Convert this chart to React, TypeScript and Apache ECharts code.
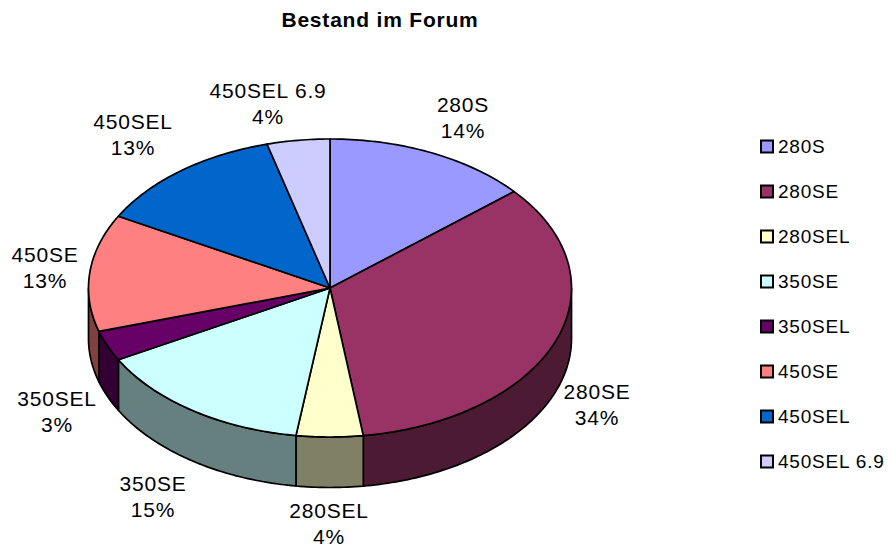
import React, { useEffect, useRef } from "react";
import * as echarts from "echarts";

const categories = ["280S", "280SE", "280SEL", "350SE", "350SEL", "450SE", "450SEL", "450SEL 6.9"];
const shares = [13.8, 34.0, 4.45, 14.75, 3.3, 12.7, 12.8, 4.2];
const topColors = ["#9999FF", "#993366", "#FFFFCC", "#CCFFFF", "#660066", "#FF8080", "#0066CC", "#CCCCFF"];
const sideColors = ["#4D4D80", "#4D1A33", "#808066", "#668080", "#330033", "#804040", "#003366", "#666680"];
const labelX = [463, 597, 329, 153, 57, 45, 133, 268];
const labelY = [117, 404, 523, 496, 411, 267, 134, 103];

const CX = 330;
const CY = 288;
const RX = 241.5;
const RY = 149;
const DEPTH = 50.5;
const LINE = 1.7;
const FONT = "Liberation Sans";

const total = shares.reduce((a, b) => a + b, 0);
const startOf = (i: number) => (shares.slice(0, i).reduce((a, b) => a + b, 0) / total) * Math.PI * 2;
const pt = (t: number, dy = 0): number[] => [CX + RX * Math.sin(t), CY - RY * Math.cos(t) + dy];
const arc = (a: number, b: number, dy = 0): number[][] => {
  const n = Math.max(2, Math.ceil(((b - a) / (Math.PI * 2)) * 360));
  const out: number[][] = [];
  for (let k = 0; k <= n; k++) out.push(pt(a + ((b - a) * k) / n, dy));
  return out;
};

function sliceRenderer(i: number) {
  return () => {
    const a = startOf(i);
    const b = startOf(i + 1);
    const children: any[] = [];
    const sa = Math.max(a, Math.PI / 2);
    const sb = Math.min(b, (Math.PI * 3) / 2);
    if (sb > sa) {
      children.push({
        type: "polygon",
        shape: { points: [...arc(sa, sb), ...arc(sa, sb, DEPTH).reverse()] },
        style: { fill: sideColors[i], stroke: "#000", lineWidth: LINE, lineJoin: "round" },
      });
    }
    children.push({
      type: "polygon",
      shape: { points: [[CX, CY], ...arc(a, b)] },
      style: { fill: topColors[i], stroke: "#000", lineWidth: LINE, lineJoin: "round" },
    });
    return { type: "group", children };
  };
}

export default function App() {
  const ref = useRef<HTMLDivElement>(null);
  useEffect(() => {
    const chart = echarts.init(ref.current!, undefined, { renderer: "svg" });
    chart.setOption({
      animation: false,
      backgroundColor: "#fff",
      textStyle: { fontFamily: FONT },
      title: {
        text: "Bestand im Forum",
        left: 375,
        top: 4,
        textAlign: "center",
        textStyle: { fontFamily: FONT, fontSize: 21, fontWeight: "bold", color: "#000" },
      },
      legend: {
        orient: "vertical",
        left: 755,
        top: 131,
        itemWidth: 12,
        itemHeight: 12,
        itemGap: 24,
        selectedMode: false,
        icon: "rect",
        itemStyle: { borderColor: "#000", borderWidth: 2 },
        textStyle: { fontFamily: FONT, fontSize: 19, color: "#000", padding: [0, 0, 0, 0], lineHeight: 21 },
        data: categories,
      },
      graphic: categories.map((c, i) => ({
        type: "text",
        x: labelX[i],
        y: labelY[i],
        z: 10,
        style: {
          text: `${c}\n${Math.round((shares[i] / total) * 100)}%`,
          fontFamily: FONT,
          fontSize: 21,
          lineHeight: 26,
          fill: "#000",
          textAlign: "center",
          textVerticalAlign: "middle",
        },
      })),
      series: categories.map((c, i) => ({
        type: "custom",
        name: c,
        coordinateSystem: "none",
        silent: true,
        itemStyle: { color: topColors[i] },
        data: [shares[i]],
        renderItem: sliceRenderer(i),
      })),
    });
    return () => chart.dispose();
  }, []);
  return (
    <div
      ref={ref}
      style={{ position: "fixed", left: 0, top: 0, width: 888, height: 546, letterSpacing: "0.8px" }}
    />
  );
}
